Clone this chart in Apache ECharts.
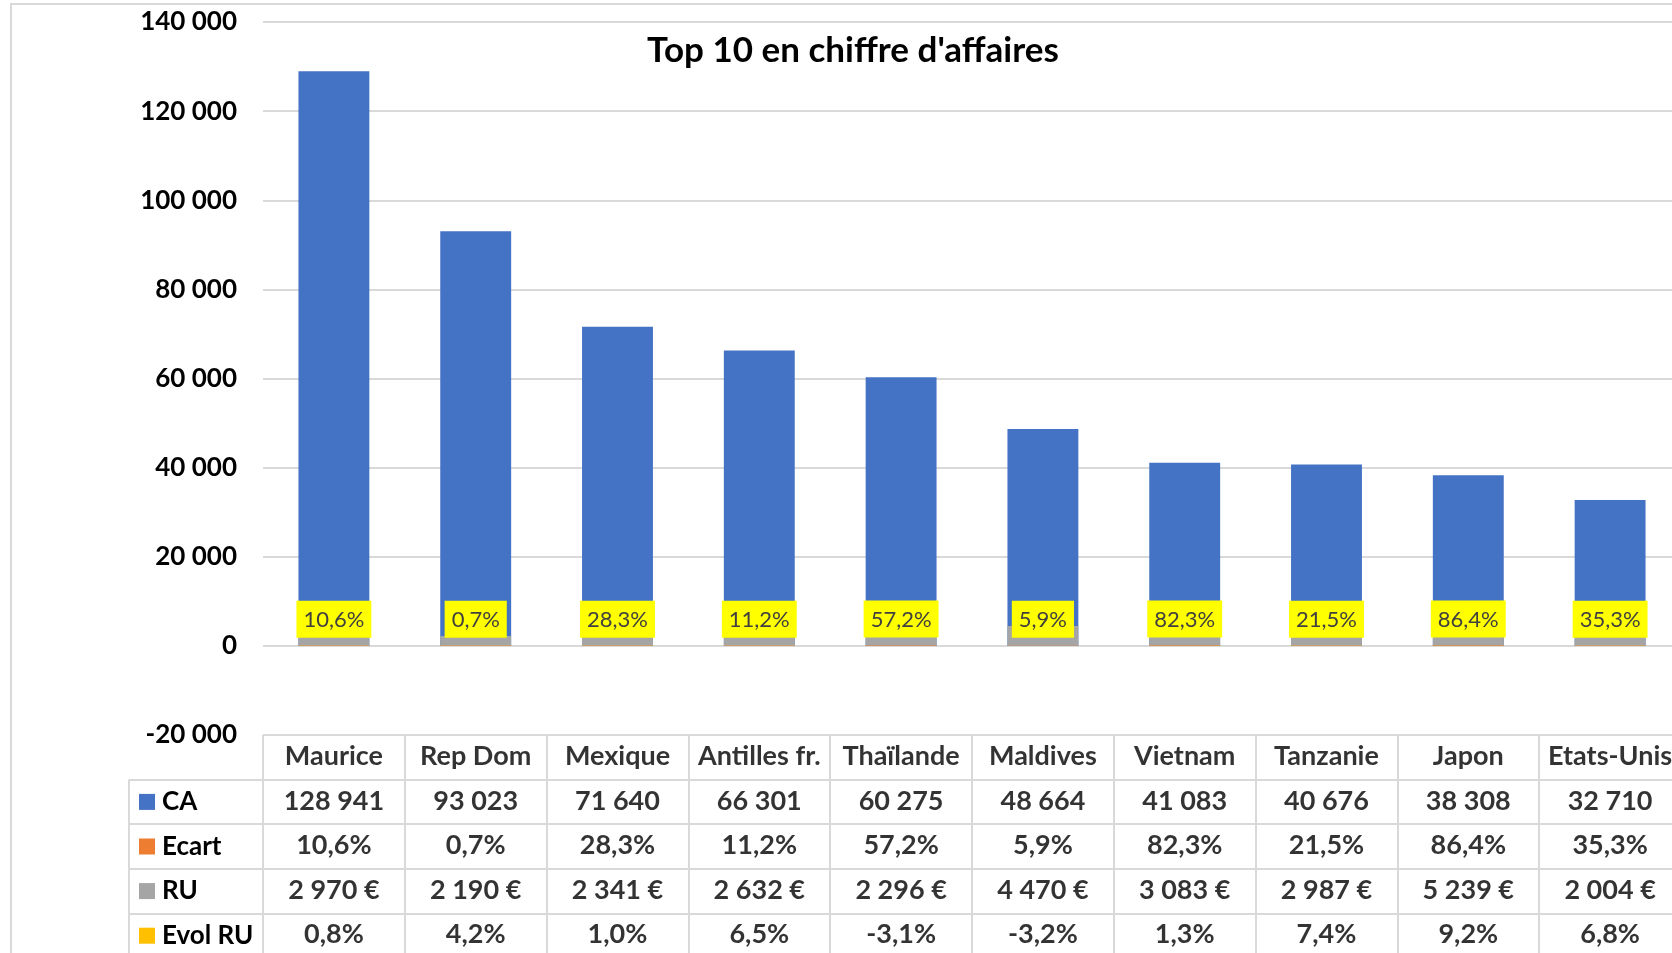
<!DOCTYPE html>
<html><head><meta charset="utf-8">
<script src="https://cdn.jsdelivr.net/npm/echarts@6/dist/echarts.min.js"></script>
<style>html,body{margin:0;padding:0;background:#fff;overflow:hidden}#c{width:1672px;height:953px}</style>
</head><body><div id="c"></div>
<script>
const categories = ['Maurice','Rep Dom','Mexique','Antilles fr.','Thaïlande','Maldives','Vietnam','Tanzanie','Japon','Etats-Unis'];
const ca = [128941,93023,71640,66301,60275,48664,41083,40676,38308,32710];
const ecart = [10.6,0.7,28.3,11.2,57.2,5.9,82.3,21.5,86.4,35.3];
const ru = [2970,2190,2341,2632,2296,4470,3083,2987,5239,2004];
const evolRu = [0.8,4.2,1.0,6.5,-3.1,-3.2,1.3,7.4,9.2,6.8];
const seriesNames = ['CA','Ecart','RU','Evol RU'];
const seriesColors = ['#4472C4','#ED7D31','#A5A5A5','#FFC000'];
const titleText = "Top 10 en chiffre d'affaires";

const FONT = 'Lato';
function fmtInt(n){ return String(Math.round(n)).replace(/\B(?=(\d{3})+(?!\d))/g,' '); }
function fmtPct(p){ return p.toFixed(1).replace('.',',') + '%'; }
function fmtEur(n){ return fmtInt(n) + ' €'; }

const tableRows = [
  categories,
  ca.map(fmtInt),
  ecart.map(fmtPct),
  ru.map(fmtEur),
  evolRu.map(fmtPct)
];
const tableRowKeys = ['', ...seriesNames];
const cellData = [];
tableRows.forEach((row, r) => row.forEach((_, c) => cellData.push([c, r])));

const GL = 263, GW = 1418;
const lineCol = '#D9D9D9';

const chart = echarts.init(document.getElementById('c'));
const richLegend = { t: { fontFamily: FONT, fontWeight: 'bold', fontSize: 26, color: '#000', padding: [0,0,0,7] } };
seriesColors.forEach((col, i) => { richLegend['s' + i] = { width: 16, height: 16, backgroundColor: col }; });

chart.setOption({
  animation: false,
  backgroundColor: '#fff',
  title: {
    text: titleText, left: 848, top: 28, textAlign: 'center',
    textStyle: { fontFamily: FONT, fontWeight: 'bold', fontSize: 35, color: '#000' }
  },
  graphic: [{
    type: 'rect', shape: { x: 11, y: 4, width: 1720, height: 1000 },
    style: { fill: 'none', stroke: lineCol, lineWidth: 2 }, silent: true, z: -1
  }],
  grid: [
    { left: GL, top: 22, width: GW, height: 713, outerBoundsMode: 'none', containLabel: false },
    { left: GL, top: 735, width: GW, height: 223, outerBoundsMode: 'none', containLabel: false },
    { left: 129, top: 779.6, width: GL - 129, height: 178.4, outerBoundsMode: 'none', containLabel: false }
  ],
  xAxis: [
    { gridIndex: 0, type: 'category', data: categories, axisLine: { show: false }, axisTick: { show: false }, axisLabel: { show: false } },
    { gridIndex: 1, type: 'category', data: categories, axisLine: { show: false }, axisTick: { show: false }, axisLabel: { show: false },
      splitLine: { show: true, interval: 0, lineStyle: { color: lineCol, width: 2 } } },
    { gridIndex: 2, type: 'category', data: [''], axisLine: { show: false }, axisTick: { show: false }, axisLabel: { show: false },
      splitLine: { show: true, interval: 0, lineStyle: { color: lineCol, width: 2 } } }
  ],
  yAxis: [
    { gridIndex: 0, type: 'value', min: -20000, max: 140000, interval: 20000,
      axisLine: { show: false }, axisTick: { show: false },
      axisLabel: { margin: 26, formatter: v => fmtInt(v), fontFamily: FONT, fontWeight: 'bold', fontSize: 26, color: '#000' },
      splitLine: { show: true, lineStyle: { color: lineCol, width: 2 } } },
    { gridIndex: 1, type: 'category', data: tableRowKeys, inverse: true,
      axisLine: { show: false }, axisTick: { show: false }, axisLabel: { show: false },
      splitLine: { show: true, interval: 0, lineStyle: { color: lineCol, width: 2 } } },
    { gridIndex: 2, type: 'category', data: seriesNames, inverse: true,
      axisLine: { show: false }, axisTick: { show: false },
      axisLabel: { inside: true, margin: 10, interval: 0, align: 'left',
        formatter: (v, i) => '{s' + i + '|}{t|' + v + '}', rich: richLegend },
      splitLine: { show: true, interval: 0, lineStyle: { color: lineCol, width: 2 } } }
  ],
  series: [
    { name: 'CA', type: 'bar', xAxisIndex: 0, yAxisIndex: 0, data: ca, barWidth: '50%',
      itemStyle: { color: seriesColors[0] } },
    { name: 'Ecart', type: 'bar', xAxisIndex: 0, yAxisIndex: 0, data: ecart, barWidth: '50%', z: 5,
      itemStyle: { color: seriesColors[1] },
      label: { show: true, position: 'top', distance: 8, formatter: p => fmtPct(p.value),
        backgroundColor: '#FFFF00', padding: [8, 7, 7, 7], lineHeight: 22,
        fontFamily: FONT, fontSize: 22, color: '#404040' } },
    { name: 'RU', type: 'bar', xAxisIndex: 0, yAxisIndex: 0, data: ru, barWidth: '50%',
      itemStyle: { color: seriesColors[2] } },
    { name: 'Evol RU', type: 'bar', xAxisIndex: 0, yAxisIndex: 0, data: evolRu, barWidth: '50%', barGap: '-100%',
      itemStyle: { color: seriesColors[3] } },
    { name: 'table', type: 'scatter', xAxisIndex: 1, yAxisIndex: 1, data: cellData,
      symbolSize: 1, itemStyle: { color: 'rgba(0,0,0,0)' }, silent: true,
      label: { show: true, position: 'inside', offset: [0, -1], formatter: p => tableRows[p.value[1]][p.value[0]],
        fontFamily: FONT, fontWeight: 'bold', fontSize: 27, color: '#000' } }
  ]
});
</script>
</body></html>
